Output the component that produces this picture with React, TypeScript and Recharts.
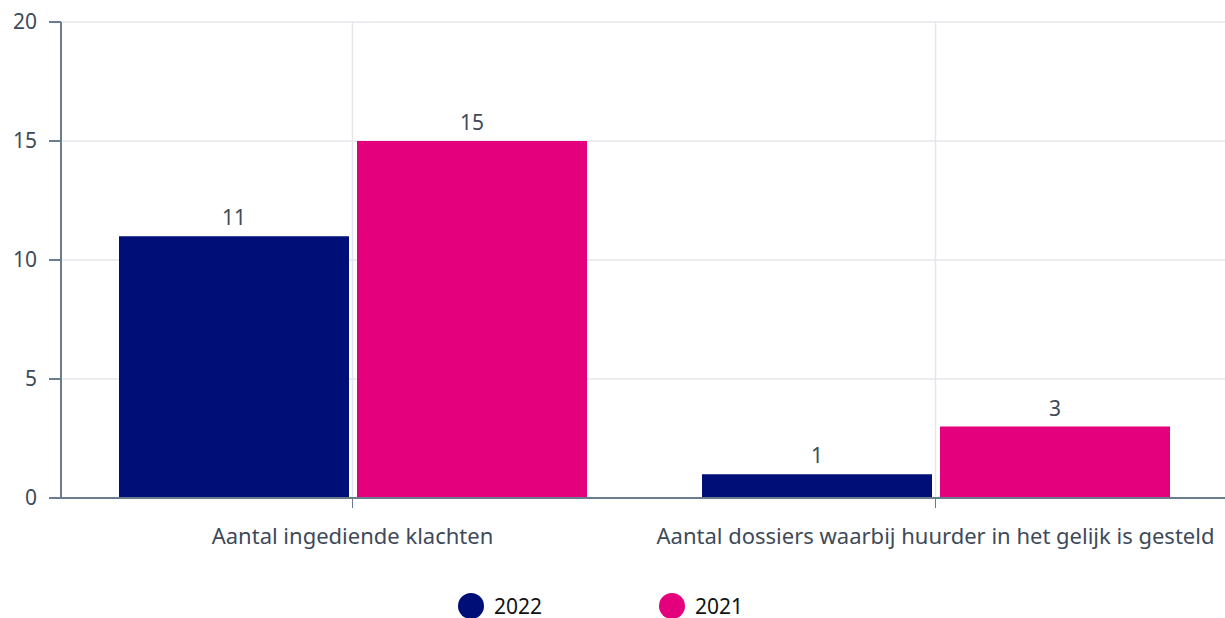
import React from "react";
import {
  BarChart,
  Bar,
  XAxis,
  YAxis,
  CartesianGrid,
  Legend,
  LabelList,
} from "recharts";

const categories = [
  "Aantal ingediende klachten",
  "Aantal dossiers waarbij huurder in het gelijk is gesteld",
];
const values2022 = [11, 1];
const values2021 = [15, 3];
const yTicks = [0, 5, 10, 15, 20];

const series = [
  { key: "y2022", name: "2022", color: "#000e78" },
  { key: "y2021", name: "2021", color: "#e4007d" },
];

const data = categories.map((cat, i) => ({
  cat,
  y2022: values2022[i],
  y2021: values2021[i],
}));

const font = "'Noto Sans', 'Open Sans', sans-serif";
const axisColor = "#6b7c8f";
const textColor = "#3e4a59";

const LegendContent = () => (
  <div style={styles.legend}>
    {series.map((s) => (
      <div key={s.key} style={styles.legendItem}>
        <span style={{ ...styles.dot, backgroundColor: s.color }} />
        <span>{s.name}</span>
      </div>
    ))}
  </div>
);

const App: React.FC = () => {
  return (
    <div style={styles.wrapper}>
      <BarChart
        width={1225}
        height={618}
        data={data}
        margin={{ top: 22, right: -2, left: 0, bottom: 0 }}
        barGap={8}
      >
        <CartesianGrid stroke="#e5e7ec" strokeWidth={1.5} />
        <XAxis
          dataKey="cat"
          tickLine={{ stroke: axisColor }}
          axisLine={{ stroke: axisColor, strokeWidth: 2 }}
          tickSize={10}
          tickMargin={20}
          height={72}
          fontSize={22}
          tick={{ fontFamily: font, fontSize: 22, fill: textColor }}
          interval={0}
        />
        <YAxis
          domain={[0, 20]}
          ticks={yTicks}
          width={61}
          tickSize={12}
          tickMargin={12}
          fontSize={21}
          tickLine={{ stroke: axisColor, strokeWidth: 2 }}
          axisLine={{ stroke: axisColor, strokeWidth: 2 }}
          tick={{ fontFamily: font, fontSize: 21, fill: textColor }}
        />
        <Legend
          verticalAlign="bottom"
          content={<LegendContent />}
          wrapperStyle={{ height: 48 }}
        />
        {series.map((s) => (
          <Bar
            key={s.key}
            dataKey={s.key}
            name={s.name}
            fill={s.color}
            barSize={230}
            isAnimationActive={false}
          >
            <LabelList
              dataKey={s.key}
              position="top"
              offset={11}
              fontSize={21}
              style={{ fontFamily: font, fontSize: 21, fill: textColor }}
            />
          </Bar>
        ))}
      </BarChart>
    </div>
  );
};

const styles: Record<string, React.CSSProperties> = {
  wrapper: {
    position: "absolute",
    top: 0,
    left: 0,
    width: 1225,
    height: 618,
    background: "white",
  },
  legend: {
    display: "flex",
    justifyContent: "center",
    gap: 117,
    paddingRight: 26,
    fontFamily: font,
    fontSize: 21,
    color: "#111",
    height: 48,
    boxSizing: "border-box",
    alignItems: "flex-end",
    position: "relative",
    top: 2,
  },
  legendItem: {
    display: "flex",
    alignItems: "center",
    gap: 10,
  },
  dot: {
    display: "inline-block",
    width: 26,
    height: 26,
    borderRadius: "50%",
  },
};

export default App;
